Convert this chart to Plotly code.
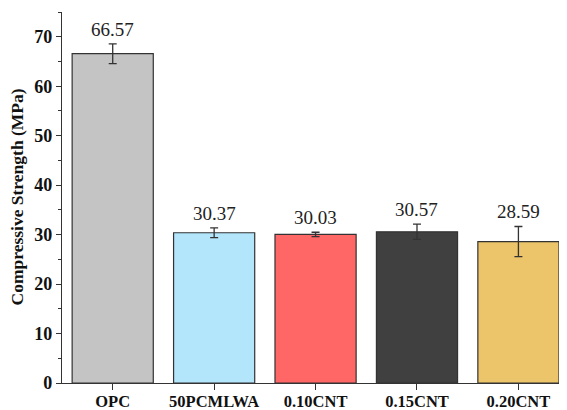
import plotly.graph_objects as go

categories = ["OPC", "50PCMLWA", "0.10CNT", "0.15CNT", "0.20CNT"]
strength = [66.57, 30.37, 30.03, 30.57, 28.59]
errors = [2.0, 1.0, 0.45, 1.55, 3.05]
colors = ["#c4c4c4", "#b3e5fb", "#ff6666", "#404040", "#ecc46a"]
value_labels = ["66.57", "30.37", "30.03", "30.57", "28.59"]
y_title = "Compressive Strength (MPa)"

FONT = "Liberation Serif, Times New Roman, serif"

fig = go.Figure()
fig.add_trace(go.Bar(
    x=categories, y=strength,
    marker=dict(color=colors, line=dict(color="#333333", width=1.2)),
    width=0.8,
    error_y=dict(type="data", array=errors, visible=True,
                 color="#333333", thickness=1.3, width=4),
    showlegend=False,
))

for c, v, e, t in zip(categories, strength, errors, value_labels):
    fig.add_annotation(x=c, y=v + e, text=t, showarrow=False,
                       yanchor="bottom", yshift=2,
                       font=dict(family=FONT, size=19, color="#222222"))

fig.add_annotation(xref="paper", yref="paper", x=0, y=0.5, xshift=-46,
                   text=y_title, textangle=-90, showarrow=False,
                   xanchor="center", yanchor="middle",
                   font=dict(family=FONT, size=17.5, color="#111111", weight="bold"))

# page body has an 8px default margin, so the figure is sized to fit the window
fig.update_layout(
    width=559, height=402,
    margin=dict(l=54, r=7, t=4, b=27),
    plot_bgcolor="white", paper_bgcolor="white",
    font=dict(family=FONT, color="#111111"),
    bargap=0.2,
)
fig.update_xaxes(
    range=[-0.5, 4.41], automargin=False,
    showline=True, linecolor="#333333", linewidth=1.3,
    ticks="outside", ticklen=6, tickwidth=1.3, tickcolor="#333333",
    ticklabelstandoff=-3,
    tickfont=dict(family=FONT, size=16.5, color="#111111", weight="bold"),
    showgrid=False, zeroline=False,
)
fig.update_yaxes(
    range=[0, 75], automargin=False,
    tickvals=[0, 10, 20, 30, 40, 50, 60, 70],
    showline=True, linecolor="#333333", linewidth=1.3,
    ticks="outside", ticklen=5, tickwidth=1.3, tickcolor="#333333",
    minor=dict(tickvals=[5, 15, 25, 35, 45, 55, 65, 75], ticks="outside",
               ticklen=3, tickwidth=1.3, tickcolor="#333333"),
    tickfont=dict(family=FONT, size=18, color="#111111", weight="bold"),
    showgrid=False, zeroline=False,
)

fig.write_html("out.html")
